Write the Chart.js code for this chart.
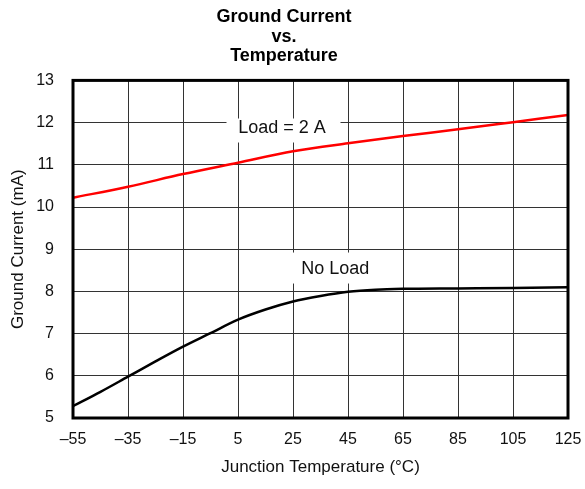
<!DOCTYPE html>
<html>
<head>
<meta charset="utf-8">
<script src="https://cdn.jsdelivr.net/npm/chart.js@4"></script>
<style>
  html, body { margin: 0; padding: 0; background: #fff; }
  #wrap { width: 585px; height: 489px; }
</style>
</head>
<body>
<div id="wrap"><canvas id="c" width="585" height="489"></canvas></div>
<script>
// Junction temperature grid (°C) and y ticks (mA)
const xTicks = [-55, -35, -15, 5, 25, 45, 65, 85, 105, 125];
const yTicks = [5, 6, 7, 8, 9, 10, 11, 12, 13];

// Load = 2 A
const loadTemps = [-55, -35, -15, 5, 25, 45, 65, 85, 105, 125];
const loadCurrent = [10.22, 10.48, 10.78, 11.05, 11.32, 11.51, 11.68, 11.84, 12.01, 12.18];

// No load
const noLoadTemps = [-55, -45, -35, -25, -15, -5, 5, 15, 25, 35, 45, 55, 65, 85, 105, 125];
const noLoadCurrent = [5.28, 5.62, 5.98, 6.34, 6.69, 7.01, 7.33, 7.57, 7.76, 7.89, 7.99, 8.04, 8.06, 8.07, 8.08, 8.10];

const pts = (xs, ys) => xs.map((x, i) => ({ x: x, y: ys[i] }));
const fmt = v => (v < 0 ? '\u2013' + Math.abs(v) : String(v));

const FAMILY = '"Liberation Sans", Arial, sans-serif';

// Boxed curve labels: text anchored in data coordinates, white box around it
const curveLabels = [
  { text: 'Load = 2 A', x: 21.0, y: 11.86, dx: 1.5, dy: 2, w: 114, h: 24 },
  { text: 'No Load', x: 40.4, y: 8.53, dx: 0.5, dy: -1, w: 91, h: 31 }
];

const labelPlugin = {
  id: 'curveLabels',
  beforeDatasetsDraw(chart) {
    const { ctx, scales } = chart;
    ctx.save();
    ctx.font = '18px ' + FAMILY;
    ctx.textAlign = 'center';
    ctx.textBaseline = 'middle';
    curveLabels.forEach(l => {
      const cx = scales.x.getPixelForValue(l.x);
      const cy = scales.y.getPixelForValue(l.y);
      ctx.fillStyle = '#fff';
      ctx.fillRect(cx + l.dx - l.w / 2, cy + l.dy - l.h / 2, l.w, l.h);
      ctx.fillStyle = '#111';
      ctx.fillText(l.text, cx, cy);
    });
    ctx.restore();
  }
};

const borderPlugin = {
  id: 'plotBorder',
  afterDatasetsDraw(chart) {
    const { ctx, chartArea: a } = chart;
    ctx.save();
    ctx.strokeStyle = '#000';
    ctx.lineWidth = 3;
    ctx.strokeRect(a.left, a.top, a.right - a.left, a.bottom - a.top);
    ctx.restore();
  }
};

const tickFont = { family: FAMILY, size: 16 };
const axisTitleFont = { family: FAMILY, size: 17 };

new Chart(document.getElementById('c'), {
  type: 'line',
  data: {
    datasets: [
      {
        label: 'Load = 2 A',
        data: pts(loadTemps, loadCurrent),
        borderColor: '#ff0000',
        borderWidth: 2.5,
        pointRadius: 0,
        cubicInterpolationMode: 'monotone'
      },
      {
        label: 'No Load',
        data: pts(noLoadTemps, noLoadCurrent),
        borderColor: '#000',
        borderWidth: 2.5,
        pointRadius: 0,
        cubicInterpolationMode: 'monotone'
      }
    ]
  },
  options: {
    responsive: false,
    animation: false,
    devicePixelRatio: 1,
    layout: { padding: { left: 0, right: 17, top: 7, bottom: 6 } },
    plugins: {
      legend: { display: false },
      tooltip: { enabled: false },
      title: {
        display: true,
        text: ['Ground Current', 'vs.', 'Temperature'],
        color: '#000',
        font: { family: FAMILY, size: 18, weight: 'bold', lineHeight: 1.1 },
        padding: { top: 0, bottom: 14 }
      }
    },
    scales: {
      x: {
        type: 'linear',
        min: -55,
        max: 125,
        afterBuildTicks: s => { s.ticks = xTicks.map(v => ({ value: v })); },
        ticks: { callback: v => fmt(v), color: '#111', font: tickFont, padding: 12, maxRotation: 0, autoSkip: false },
        grid: { color: '#333', lineWidth: 1, drawTicks: false },
        border: { display: false },
        title: { display: true, text: 'Junction Temperature (°C)', color: '#111', font: axisTitleFont, padding: { top: 4, bottom: 5 } },
        afterFit: s => { s.height = 65; s.paddingLeft = 0; s.paddingRight = 0; }
      },
      y: {
        type: 'linear',
        min: 5,
        max: 13,
        afterBuildTicks: s => { s.ticks = yTicks.map(v => ({ value: v })); },
        ticks: { color: '#111', font: tickFont, padding: 19 },
        grid: { color: '#333', lineWidth: 1, drawTicks: false },
        border: { display: false },
        title: { display: true, text: 'Ground Current (mA)', color: '#111', font: axisTitleFont, padding: { top: 8, bottom: 0 } },
        afterFit: s => { s.width = 73; s.paddingTop = 0; s.paddingBottom = 0; }
      }
    }
  },
  plugins: [labelPlugin, borderPlugin]
});
</script>
</body>
</html>
